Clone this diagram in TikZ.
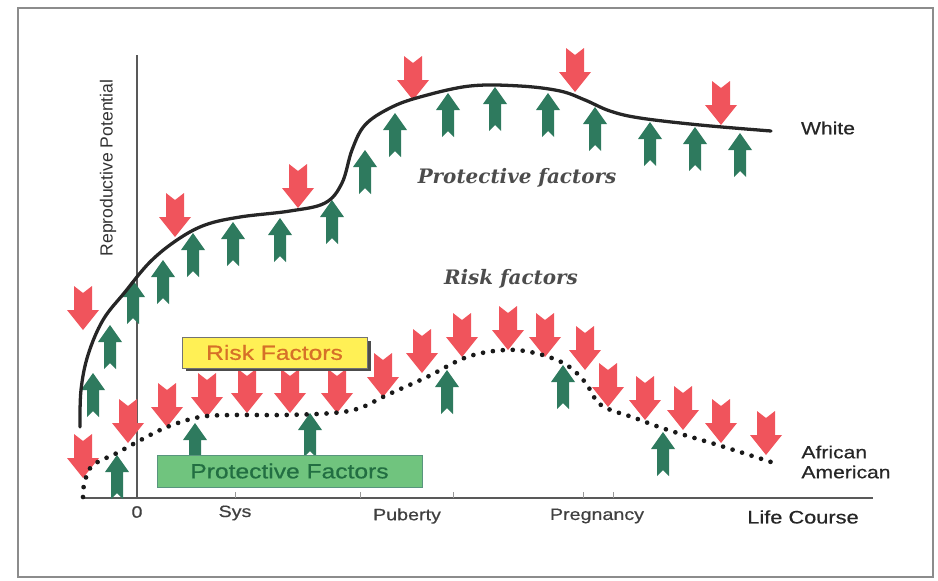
\documentclass[tikz,border=0pt]{standalone}
\usepackage{fontspec}
\setmainfont{Liberation Sans}
\newfontfamily\widesans[FakeStretch=1.2, FakeBold=0.6]{Liberation Sans}
\newfontfamily\slantserif{DejaVu Serif}
\usepackage{tikz}
\usetikzlibrary{positioning, calc}

\definecolor{riskred}{RGB}{240,84,92}
\definecolor{protgreen}{RGB}{46,122,94}
\definecolor{boxyellow}{RGB}{255,240,85}
\definecolor{boxgreen}{RGB}{112,196,126}
\definecolor{risktext}{RGB}{214,112,40}
\definecolor{prottext}{RGB}{34,110,66}

\tikzset{
  riskarrow/.pic={\fill[riskred] (0,0) -- (-16,-20) -- (-9,-20) -- (-9,-44) -- (0,-37) -- (9,-44) -- (9,-20) -- (16,-20) -- cycle;},
  protarrow/.pic={\fill[protgreen] (0,0) -- (-12,17) -- (-6,17) -- (-6,44) -- (0,38) -- (6,44) -- (6,17) -- (12,17) -- cycle;},
  axislabel/.style={font=\widesans\fontsize{14}{16}\selectfont, text=black!75},
  curvelabel/.style={font=\widesans\fontsize{15}{17}\selectfont, text=black!85, align=left},
  factorlabel/.style={font=\slantserif\bfseries\itshape\fontsize{17}{19}\selectfont, text=black!70},
}

\begin{document}
\begin{tikzpicture}[x=0.03cm, y=-0.03cm]
    \useasboundingbox (0,0) rectangle (938,581);
    % 外框
    \draw[black!45, line width=1pt] (18,8) rectangle (933,577);

    % 坐标轴
    \coordinate (origin) at (137,498);
    \coordinate (ytop) at (137,55);
    \coordinate (xstart) at (83,498);
    \coordinate (xend) at (873,498);
    \draw[black!65, line width=1.6pt] (ytop) -- (origin);
    \draw[black!65, line width=1.6pt] (xstart) -- (xend);
    \foreach \t in {235,360,453,583,613}
        \draw[black!40, line width=0.6pt] (\t,498) -- (\t,492);

    % 轴上的文字
    \node[axislabel] (zero) at (137,512) {0};
    \node[axislabel] (sys) at (235,513) {Sys};
    \node[axislabel] (puberty) at (407,516) {Puberty};
    \node[axislabel] (pregnancy) at (597,516) {Pregnancy};
    \node[axislabel, font=\widesans\fontsize{15.5}{17}\selectfont, text=black!85] (lifecourse) at (803,517) {Life Course};
    \node[rotate=90, font=\fontsize{15}{17}\selectfont, text=black!80] (potential) at (108,168) {Reproductive Potential};

    % 白人曲线上的箭头
    \foreach \x/\y in {83/330, 175/237, 298/208, 413/100, 575/92, 721/125}
        \pic at (\x,\y) {riskarrow};
    \foreach \x/\y in {93/373, 110/325, 133/280, 163/260, 193/233, 233/222, 280/218, 332/200, 365/150, 395/113, 448/93, 495/87, 548/93, 595/107, 650/122, 695/127, 740/133}
        \pic at (\x,\y) {protarrow};

    % 非裔美国人曲线上的箭头
    \foreach \x/\y in {83/478, 128/443, 167/427, 207/417, 247/413, 290/413, 337/413, 383/397, 422/373, 462/357, 508/350, 545/357, 585/370, 608/407, 645/420, 683/430, 721/443, 766/455}
        \pic at (\x,\y) {riskarrow};
    \foreach \x/\y in {117/455, 195/423, 310/413, 447/370, 563/365, 663/432}
        \pic at (\x,\y) {protarrow};

    % 两条曲线
    \draw[black!85, line width=2.8pt, line cap=round] plot[smooth, tension=0.6] coordinates {(80,427) (81,390) (88,355) (103,320) (125,292) (150,262) (177,240) (205,225) (240,217) (290,211) (325,203) (342,183) (352,150) (365,125) (390,108) (420,97) (470,86) (520,86) (560,91) (585,100) (610,111) (640,118) (700,125) (771,131)};
    \draw[black!90, line width=4pt, line cap=round, dash pattern=on 0pt off 8.5pt] plot[smooth, tension=0.6] coordinates {(83,497) (84,485) (92,466) (117,453) (137,442) (167,427) (200,417) (233,415) (283,415) (333,413) (360,408) (387,395) (427,377) (467,357) (505,350) (535,353) (565,364) (585,382) (601,405) (635,418) (668,430) (718,445) (771,462)};

    % 曲线名称
    \node[curvelabel] (white) at (828,128) {White};
    \node[curvelabel] (african) at (846,462) {African\\American};

    % 斜体说明
    \node[factorlabel] (protective) at (517,178) {Protective factors};
    \node[factorlabel] (risk) at (511,279) {Risk factors};

    % 图例方框
    \fill[black!70] (186,341) rectangle (371,371);
    \node[draw=black!55, fill=boxyellow, minimum width=185*0.03cm, minimum height=31*0.03cm, inner sep=0pt,
          font=\widesans\fontsize{17.5}{19}\selectfont, text=risktext] (riskbox) at (274.5,352.5) {Risk Factors};
    \node[draw=protgreen!80, fill=boxgreen, minimum width=265*0.03cm, minimum height=32*0.03cm, inner sep=0pt,
          font=\widesans\fontsize{17.5}{19}\selectfont, text=prottext] (protbox) at (289.5,471) {Protective Factors};
\end{tikzpicture}
\end{document}
